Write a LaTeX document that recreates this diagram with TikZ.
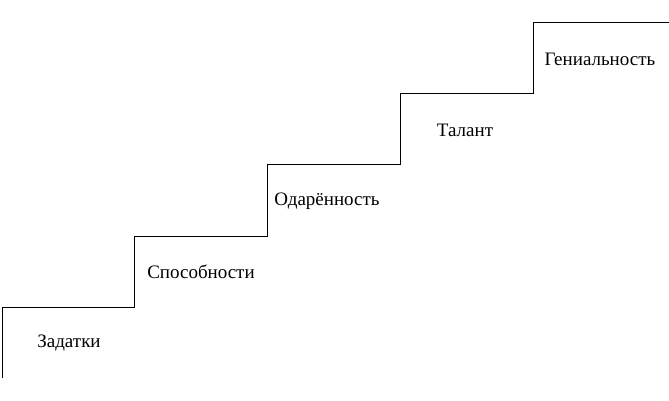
\documentclass[tikz,border=0pt]{standalone}
\usepackage{fontspec}
\setmainfont{Liberation Serif}
\begin{document}
\begin{tikzpicture}[x=1pt,y=-1pt,lbl/.style={font=\fontsize{19}{22}\selectfont,inner sep=0pt}]
\useasboundingbox[fill=white] (0,0) rectangle (669,400);
\coordinate (s) at (2,378);
\coordinate (e) at (669,22);
\draw[line width=1pt] (s) -- (2,307) -- (134,307) -- (134,236) -- (267,236) -- (267,164) -- (400,164) -- (400,93) -- (533,93) -- (533,22) -- (e);
\node[lbl] (t1) at (69,343) {Задатки};
\node[lbl] (t2) at (201,272) {Способности};
\node[lbl] (t3) at (327,201) {Одарённость};
\node[lbl] (t4) at (465,130) {Талант};
\node[lbl] (t5) at (600,59) {Гениальность};
\end{tikzpicture}
\end{document}
